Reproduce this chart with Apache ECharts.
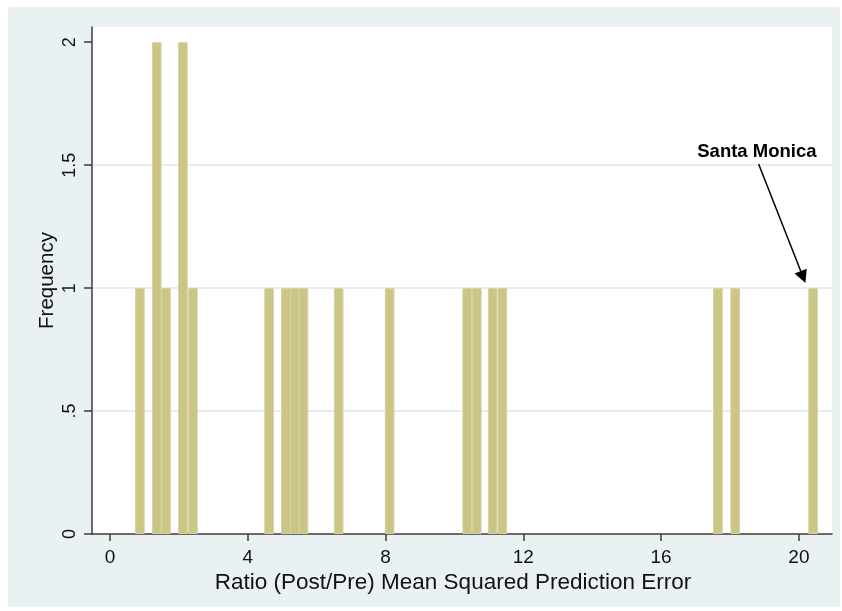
<!DOCTYPE html>
<html>
<head>
<meta charset="utf-8">
<script src="https://cdn.jsdelivr.net/npm/echarts@6/dist/echarts.min.js"></script>
<style>
  html, body { margin: 0; padding: 0; background: #ffffff; }
  #chart { width: 842px; height: 611px; }
</style>
</head>
<body>
<div id="chart"></div>
<script>
// Ratio of post- to pre-period MSPE for each unit, and how many units share that bar
const ratios = [0.87, 1.36, 1.63, 2.12, 2.41, 4.62, 5.11, 5.37, 5.62, 6.64,
                8.12, 10.37, 10.65, 11.11, 11.39, 17.65, 18.15, 20.41];
const freq   = [1, 2, 1, 2, 1, 1, 1, 1, 1, 1,
                1, 1, 1, 1, 1, 1, 1, 1];

const xTicks = [0, 4, 8, 12, 16, 20];
const yTicks = [0, 0.5, 1, 1.5, 2];
const yTickText = ['0', '.5', '1', '1.5', '2'];

// annotation for the treated unit
const noteText = 'Santa Monica';
const noteAt = [18.78, 1.555];
const arrowFrom = [18.83, 1.505];
const arrowTo = [20.12, 1.045];

const barData = ratios.map((r, i) => [r, freq[i]]);

const chart = echarts.init(document.getElementById('chart'), null, { renderer: 'canvas' });

const axisColor = '#3c3c3c';
const textColor = '#111111';
const font = '"Liberation Sans", Arial, Helvetica, sans-serif';

chart.setOption({
  animation: false,
  backgroundColor: 'transparent',
  graphic: [{
    type: 'rect',
    z: -100,
    silent: true,
    shape: { x: 8, y: 7, width: 832, height: 600 },
    style: { fill: '#e9f1f3' }
  }],
  grid: {
    left: 92, right: 10, top: 27, bottom: 77,
    show: true, backgroundColor: '#ffffff', borderWidth: 0
  },
  xAxis: {
    type: 'value',
    min: -0.52, max: 20.96,
    name: 'Ratio (Post/Pre) Mean Squared Prediction Error',
    nameLocation: 'middle',
    nameGap: 37,
    nameMoveOverlap: false,
    nameTextStyle: { fontFamily: font, fontSize: 22.5, color: textColor, padding: [0, 18, 0, 0] },
    axisLine: { show: true, onZero: false, lineStyle: { color: axisColor, width: 1.5 } },
    axisTick: { show: true, length: 7, customValues: xTicks, lineStyle: { color: axisColor, width: 1.5 } },
    axisLabel: { customValues: xTicks, margin: 14, fontFamily: font, fontSize: 19, color: textColor },
    splitLine: { show: false }
  },
  yAxis: {
    type: 'value',
    min: 0, max: 2.062, interval: 0.5,
    name: 'Frequency',
    nameLocation: 'middle',
    nameGap: 34,
    nameMoveOverlap: false,
    nameTextStyle: { fontFamily: font, fontSize: 20.5, color: textColor },
    axisLine: { show: true, onZero: false, lineStyle: { color: axisColor, width: 1.5 } },
    axisTick: { show: true, length: 8, customValues: yTicks, lineStyle: { color: axisColor, width: 1.5 } },
    axisLabel: {
      customValues: yTicks,
      rotate: 90,
      margin: 13,
      fontFamily: font, fontSize: 18, color: textColor,
      formatter: v => {
        const k = yTicks.findIndex(t => Math.abs(t - v) < 1e-9);
        return k >= 0 ? yTickText[k] : '';
      }
    },
    splitLine: { show: true, showMaxLine: false, showMinLine: false, lineStyle: { color: '#e4edf1', width: 2 } }
  },
  series: [{
    type: 'bar',
    data: barData,
    barWidth: 9.6,
    itemStyle: { color: '#cbc586', borderColor: '#d6d1a0', borderWidth: 1 },
    markLine: {
      silent: true,
      symbol: ['none', 'triangle'],
      symbolSize: 13,
      label: { show: false },
      lineStyle: { color: '#000000', width: 1.5, type: 'solid' },
      data: [[{ coord: arrowFrom }, { coord: arrowTo }]]
    },
    markPoint: {
      silent: true,
      symbol: 'circle',
      symbolSize: 1,
      itemStyle: { color: 'rgba(0,0,0,0)' },
      label: {
        show: true, position: 'inside', formatter: noteText,
        fontFamily: font, fontWeight: 'bold', fontSize: 18.5, color: '#000000'
      },
      data: [{ coord: noteAt }]
    }
  }]
});
</script>
</body>
</html>
